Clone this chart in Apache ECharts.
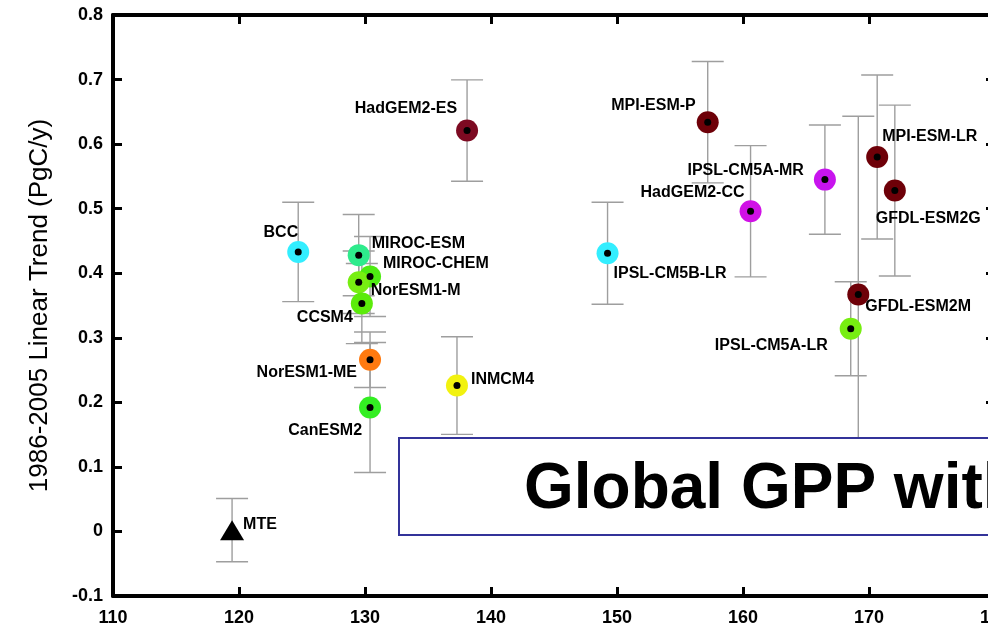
<!DOCTYPE html>
<html><head><meta charset="utf-8">
<script src="https://cdn.jsdelivr.net/npm/echarts/dist/echarts.min.js"></script>
<style>html,body{margin:0;padding:0;background:#fff;overflow:hidden}#c{width:988px;height:630px}</style>
</head><body><div id="c"></div>
<script>
// ---- data ----
const models = ['MTE','BCC','HadGEM2-ES','MIROC-ESM','MIROC-CHEM','NorESM1-M','CCSM4','NorESM1-ME','CanESM2','INMCM4','IPSL-CM5B-LR','MPI-ESM-P','HadGEM2-CC','IPSL-CM5A-MR','MPI-ESM-LR','GFDL-ESM2G','GFDL-ESM2M','IPSL-CM5A-LR'];
const gppMean = [119.45,124.7,138.1,129.5,130.4,129.5,129.75,130.4,130.4,137.3,149.25,157.2,160.6,166.5,170.65,172.05,169.15,168.55];
const gppTrend = [0.002,0.433,0.621,0.428,0.395,0.386,0.353,0.266,0.192,0.226,0.431,0.634,0.496,0.545,0.580,0.528,0.367,0.314];
const trendErr = [0.049,0.077,0.0785,0.063,0.062,0.0485,0.062,0.043,0.1006,0.0756,0.079,0.094,0.1017,0.0847,0.127,0.1324,0.2762,0.0728];
const xTickLabels = ['110','120','130','140','150','160','170','180'];
const yTickLabels = ['-0.1','0','0.1','0.2','0.3','0.4','0.5','0.6','0.7','0.8'];
const yTitle = '1986-2005 Linear Trend (PgC/y)';
const boxTitle = 'Global GPP with';

// ---- styles ----
const modelColors = {
  'BCC':'#33EEFF','HadGEM2-ES':'#7D0A22','MIROC-ESM':'#2EEB8C','MIROC-CHEM':'#4EEB12',
  'NorESM1-M':'#77EE11','CCSM4':'#5CEB0A','NorESM1-ME':'#FF7A10','CanESM2':'#33EE22',
  'INMCM4':'#F2F20F','IPSL-CM5B-LR':'#33EEFF','MPI-ESM-P':'#6E0008','HadGEM2-CC':'#D011E6',
  'IPSL-CM5A-MR':'#C814EE','MPI-ESM-LR':'#6E0008','GFDL-ESM2G':'#6E0008','GFDL-ESM2M':'#6E0008',
  'IPSL-CM5A-LR':'#77EE11'
};
const labelLayout = {
  'MTE':['left',11,-6],'BCC':['right',0,-19],'HadGEM2-ES':['right',-10,-22],
  'MIROC-ESM':['left',13,-12],'MIROC-CHEM':['left',13,-13],'NorESM1-M':['left',12,8],
  'CCSM4':['right',-9,14],'NorESM1-ME':['right',-13,13],'CanESM2':['right',-8,23],
  'INMCM4':['left',14,-6],'IPSL-CM5B-LR':['left',6,20],'MPI-ESM-P':['right',-12,-17],
  'HadGEM2-CC':['right',-6,-19],'IPSL-CM5A-MR':['right',-21,-9],'MPI-ESM-LR':['left',5,-20],
  'GFDL-ESM2G':['left',-19,28],'GFDL-ESM2M':['left',7,12],'IPSL-CM5A-LR':['right',-23,17]
};
const FONT = '"Liberation Sans", Arial, Helvetica, sans-serif';

const rows = models.map((m,i)=>[gppMean[i], gppTrend[i], trendErr[i], i]);
const circleRows = rows.filter(r=>models[r[3]]!=='MTE');
const mteRows = rows.filter(r=>models[r[3]]==='MTE');

const axisLine = {show:true, onZero:false, lineStyle:{color:'#000', width:4}};
const axisTick = {show:true, inside:true, length:9, lineStyle:{color:'#000', width:3}};

const chart = echarts.init(document.getElementById('c'), null, {renderer:'canvas'});
chart.setOption({
  animation:false,
  backgroundColor:'#fff',
  grid:{left:113, top:15, width:882, height:581, containLabel:false, outerBoundsMode:'none'},
  xAxis:[
    {type:'value', position:'bottom', min:110, max:180, interval:10,
     axisLine, axisTick, splitLine:{show:false},
     axisLabel:{margin:13, color:'#000', fontSize:18, fontWeight:'bold', fontFamily:FONT,
       formatter:(v)=>xTickLabels[Math.round((v-110)/10)]}},
    {type:'value', position:'top', min:110, max:180, interval:10,
     axisLine, axisTick, splitLine:{show:false}, axisLabel:{show:false}}
  ],
  yAxis:[
    {type:'value', position:'left', min:-0.1, max:0.8, interval:0.1,
     axisLine, axisTick, splitLine:{show:false},
     name:yTitle, nameLocation:'middle', nameGap:60,
     nameTextStyle:{fontSize:26, fontFamily:FONT, color:'#000'},
     axisLabel:{margin:10, color:'#000', fontSize:18, fontWeight:'bold', fontFamily:FONT,
       formatter:(v)=>yTickLabels[Math.round((v+0.1)*10)]}},
    {type:'value', position:'right', min:-0.1, max:0.8, interval:0.1,
     axisLine, axisTick, splitLine:{show:false}, axisLabel:{show:false}}
  ],
  series:[
    {type:'custom', name:'err', z:2, data:rows, clip:false,
     renderItem:(params, api)=>{
       const x=api.value(0), y=api.value(1), e=api.value(2);
       const t=api.coord([x,y+e]), b=api.coord([x,y-e]);
       const hw=16, st={stroke:'#9e9e9e', lineWidth:1.4};
       return {type:'group', children:[
         {type:'line', shape:{x1:t[0],y1:t[1],x2:b[0],y2:b[1]}, style:st},
         {type:'line', shape:{x1:t[0]-hw,y1:t[1],x2:t[0]+hw,y2:t[1]}, style:st},
         {type:'line', shape:{x1:b[0]-hw,y1:b[1],x2:b[0]+hw,y2:b[1]}, style:st}
       ]};
     }},
    {type:'scatter', z:3, symbol:'circle', symbolSize:22, data:circleRows,
     itemStyle:{opacity:1, color:(p)=>modelColors[models[p.data[3]]]}},
    {type:'scatter', z:4, symbol:'circle', symbolSize:7, data:circleRows,
     itemStyle:{color:'#000', opacity:1}},
    {type:'scatter', z:4, symbol:'triangle', symbolSize:[24,20], data:mteRows,
     itemStyle:{color:'#000', opacity:1}},
    {type:'custom', name:'labels', z:5, data:rows, clip:false,
     renderItem:(params, api)=>{
       const name=models[api.value(3)];
       const c=api.coord([api.value(0), api.value(1)]);
       const L=labelLayout[name];
       return {type:'text', x:c[0]+L[1], y:c[1]+L[2],
         style:{text:name, fill:'#000', font:'bold 16px '+FONT,
           textAlign:L[0], textVerticalAlign:'middle'}};
     }}
  ],
  graphic:[
    {type:'rect', z:100, shape:{x:399, y:438, width:700, height:97},
     style:{fill:'#fff', stroke:'#333399', lineWidth:2}},
    {type:'text', z:101, x:524, y:490,
     style:{text:boxTitle, fill:'#000', font:'bold 64px '+FONT, textVerticalAlign:'middle'}}
  ]
});
</script>
</body></html>
